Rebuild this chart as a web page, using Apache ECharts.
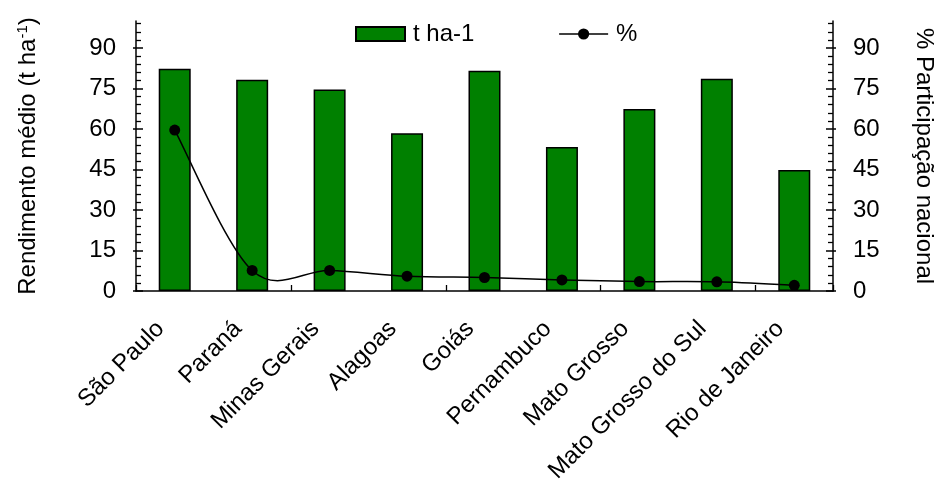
<!DOCTYPE html>
<html><head><meta charset="utf-8">
<script src="https://cdn.jsdelivr.net/npm/echarts@6/dist/echarts.min.js"></script>
<style>html,body{margin:0;padding:0;background:#fff}#c{width:940px;height:484px}</style>
</head><body><div id="c"></div>
<script>
const categories = ["São Paulo","Paraná","Minas Gerais","Alagoas","Goiás","Pernambuco","Mato Grosso","Mato Grosso do Sul","Rio de Janeiro"];
const rendimento = [82.3, 78.2, 74.6, 58.4, 81.6, 53.3, 67.4, 78.6, 44.8];
const participacao = [59.6, 7.6, 7.6, 5.5, 5.0, 4.1, 3.5, 3.4, 2.1];
const yTicks = [0, 15, 30, 45, 60, 75, 90];
const yMinorTicks = [3,6,9,12,18,21,24,27,33,36,39,42,48,51,54,57,63,66,69,72,78,81,84,87,93,96,99];

const F = '"Liberation Sans", Arial, sans-serif';
const FS = 24;
const chart = echarts.init(document.getElementById('c'));

function yAxisDef(pos, kind) {
  const base = {
    type: 'value', min: 0, max: 100, position: pos,
    splitLine: {show: false}, minorTick: {show: false}
  };
  if (kind === 'main') {
    return Object.assign(base, {
      axisLine: {show: true, lineStyle: {color: '#000', width: 1.5}},
      axisTick: {show: true, inside: true, length: 7, customValues: yTicks, lineStyle: {color: '#000', width: 1.5}},
      axisLabel: {show: true, customValues: yTicks, color: '#000', fontFamily: F, fontSize: FS, margin: 20}
    });
  }
  if (kind === 'minor') {
    return Object.assign(base, {
      axisLine: {show: false},
      axisTick: {show: true, inside: true, length: 5, customValues: yMinorTicks, lineStyle: {color: '#000', width: 1.3}},
      axisLabel: {show: false}
    });
  }
  return Object.assign(base, {
    axisLine: {show: false},
    axisTick: {show: true, inside: false, length: 3, customValues: yTicks, lineStyle: {color: '#000', width: 1.5}},
    axisLabel: {show: false}
  });
}

const yLeft = yAxisDef('left', 'main');
yLeft.name = '{a|Rendimento médio (t ha}{s|-1}{a|)}';
yLeft.nameLocation = 'middle';
yLeft.nameGap = 94;
yLeft.nameTextStyle = {color: '#000', fontFamily: F, fontSize: FS,
  rich: {a: {fontFamily: F, fontSize: FS, color: '#000'},
         s: {fontFamily: F, fontSize: 15, color: '#000', verticalAlign: 'top', padding: [0, 0, 12, 0]}}};
const yRight = yAxisDef('right', 'main');
yRight.name = '% Participação nacional';
yRight.nameLocation = 'middle';
yRight.nameGap = 79;
yRight.nameRotate = -90;
yRight.nameTextStyle = {color: '#000', fontFamily: F, fontSize: FS};

chart.setOption({
  animation: false,
  grid: {left: 136, right: 107, top: 21, bottom: 193, outerBoundsMode: 'none', containLabel: false},
  legend: {
    top: 22, left: 355, padding: 0, itemWidth: 49, itemHeight: 14, itemGap: 84,
    textStyle: {color: '#000', fontFamily: F, fontSize: FS, padding: [0, 0, 0, 3]},
    data: [
      {name: 't ha-1', icon: 'rect'},
      {name: '%', lineStyle: {color: '#000', width: 1.5, opacity: 1}}
    ]
  },
  xAxis: [{
    type: 'category', data: categories,
    axisLine: {lineStyle: {color: '#000', width: 1.5}},
    axisTick: {show: true, inside: true, length: 6, alignWithLabel: true, lineStyle: {color: '#000', width: 1.3}},
    axisLabel: {color: '#000', fontFamily: F, fontSize: FS, rotate: 45, margin: 20, interval: 0, padding: [0, 20, 0, 0]}
  }, {
    type: 'category', data: categories, position: 'bottom',
    axisLine: {show: false},
    axisTick: {show: true, inside: true, length: 6, lineStyle: {color: '#000', width: 1.3}},
    axisLabel: {show: false}
  }],
  yAxis: [yLeft, yRight, yAxisDef('left', 'minor'), yAxisDef('right', 'minor'), yAxisDef('left', 'out'), yAxisDef('right', 'out')],
  series: [{
    name: 't ha-1', type: 'bar', data: rendimento, barWidth: 32, yAxisIndex: 0,
    itemStyle: {color: '#008000', borderColor: '#000', borderWidth: 1.5}
  }, {
    name: 'curve', type: 'custom', yAxisIndex: 1, z: 3, silent: true,
    data: participacao.map((v, i) => [i, v]),
    renderItem: function (params, api) {
      const i = params.dataIndex;
      const n = participacao.length;
      if (i >= n - 1) return null;
      const P = k => api.coord([Math.max(0, Math.min(n - 1, k)), participacao[Math.max(0, Math.min(n - 1, k))]]);
      const p0 = P(i - 1), p1 = P(i), p2 = P(i + 1), p3 = P(i + 2);
      const c1 = [p1[0] + (p2[0] - p0[0]) / 6, p1[1] + (p2[1] - p0[1]) / 6];
      const c2 = [p2[0] - (p3[0] - p1[0]) / 6, p2[1] - (p3[1] - p1[1]) / 6];
      return {
        type: 'bezierCurve',
        shape: {x1: p1[0], y1: p1[1], cpx1: c1[0], cpy1: c1[1], cpx2: c2[0], cpy2: c2[1], x2: p2[0], y2: p2[1]},
        style: {stroke: '#000', lineWidth: 1.5, fill: null}
      };
    }
  }, {
    name: '%', type: 'line', data: participacao, yAxisIndex: 1, z: 4,
    symbol: 'circle', symbolSize: 11,
    lineStyle: {color: '#000', width: 1.5, opacity: 0},
    itemStyle: {color: '#000'}
  }]
});
</script></body></html>
